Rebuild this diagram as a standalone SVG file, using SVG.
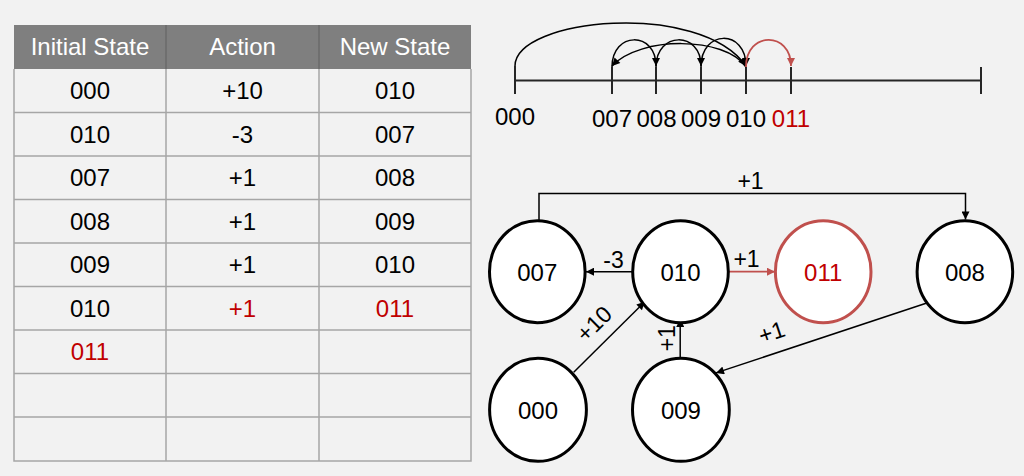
<svg xmlns="http://www.w3.org/2000/svg" width="1024" height="476" viewBox="0 0 1024 476">
<defs>
<style>
.t{font-family:"Liberation Sans",Arial,sans-serif;font-size:24px;text-anchor:middle;fill:#000}
.h{fill:#fff}
.r{fill:#c00000}
.l{font-family:"Liberation Sans",Arial,sans-serif;font-size:23px;text-anchor:middle;fill:#000}
.g{stroke:#a6a6a6;stroke-width:1.5;fill:none}
.n{fill:#fff;stroke:#000;stroke-width:3}
.nr{fill:#fff;stroke:#c0504d;stroke-width:3}
.c{fill:none;stroke:#000;stroke-width:1.5}
.cr{fill:none;stroke:#c0504d;stroke-width:1.8}
.ax{fill:none;stroke:#262626;stroke-width:2}
</style>
<marker id="ab" viewBox="0 0 10 10" refX="10" refY="5" markerWidth="10" markerHeight="8" markerUnits="userSpaceOnUse" orient="auto"><path d="M0,0 L10,5 L0,10 z" fill="#000"/></marker>
<marker id="ar" viewBox="0 0 10 10" refX="10" refY="5" markerWidth="10" markerHeight="8" markerUnits="userSpaceOnUse" orient="auto"><path d="M0,0 L10,5 L0,10 z" fill="#c0504d"/></marker>
</defs>
<rect width="1024" height="476" fill="#f2f2f2"/>

<g id="table">
<rect x="14" y="25" width="457" height="44" fill="#7f7f7f"/>
<line x1="166" y1="25" x2="166" y2="69" stroke="#6a6a6a" stroke-width="1.5"/>
<line x1="319" y1="25" x2="319" y2="69" stroke="#6a6a6a" stroke-width="1.5"/>
<path class="g" d="M14,69 V461 H471 V69 M166,69 V461 M319,69 V461 M14,112.5 H471 M14,156 H471 M14,199.5 H471 M14,243 H471 M14,286.5 H471 M14,330 H471 M14,373.5 H471 M14,417 H471"/>
<text class="t h" x="90" y="55">Initial State</text>
<text class="t h" x="242.5" y="55">Action</text>
<text class="t h" x="395" y="55">New State</text>
<text class="t" x="90" y="99">000</text><text class="t" x="242.5" y="99">+10</text><text class="t" x="395" y="99">010</text>
<text class="t" x="90" y="142.5">010</text><text class="t" x="242.5" y="142.5">-3</text><text class="t" x="395" y="142.5">007</text>
<text class="t" x="90" y="186">007</text><text class="t" x="242.5" y="186">+1</text><text class="t" x="395" y="186">008</text>
<text class="t" x="90" y="229.5">008</text><text class="t" x="242.5" y="229.5">+1</text><text class="t" x="395" y="229.5">009</text>
<text class="t" x="90" y="273">009</text><text class="t" x="242.5" y="273">+1</text><text class="t" x="395" y="273">010</text>
<text class="t" x="90" y="316.5">010</text><text class="t r" x="242.5" y="316.5">+1</text><text class="t r" x="395" y="316.5">011</text>
<text class="t r" x="90" y="360">011</text>
</g>

<g id="numberline">
<path class="ax" d="M515,80.5 H981 M515,66 V94 M612,67 V94 M656,67 V94 M701,67 V94 M746,67 V94 M791,67 V94 M981,67 V94"/>
<text class="t" x="515" y="125">000</text>
<text class="t" x="612" y="127">007</text>
<text class="t" x="656.5" y="127">008</text>
<text class="t" x="701" y="127">009</text>
<text class="t" x="746" y="127">010</text>
<text class="t r" x="791" y="127">011</text>
</g>

<g id="numberline-arcs">
<path class="c" d="M515,66 C515,18 700,0 746,66" marker-end="url(#ab)"/>
<path class="c" d="M746,67 C725,36 640,36 612,66" marker-end="url(#ab)"/>
<path class="c" d="M612,67 C612,31 656,31 656,66" marker-end="url(#ab)"/>
<path class="c" d="M656,67 C656,31 701,31 701,66" marker-end="url(#ab)"/>
<path class="c" d="M701,67 C701,29 746,29 746,66" marker-end="url(#ab)"/>
<path class="cr" d="M746,67 C746,31 791,31 791,66" marker-end="url(#ar)"/>
</g>

<g id="connectors">
<path class="c" d="M539,220 V193.5 H965.5 V219.5" marker-end="url(#ab)"/>
<text class="l" x="750.5" y="188.5">+1</text>
<path class="c" d="M632,271.7 H586" marker-end="url(#ab)"/>
<text class="l" x="613.5" y="267.5">-3</text>
<path class="cr" d="M729,271.7 H775" marker-end="url(#ar)"/>
<text class="l r" x="746.5" y="266.5">+1</text>
<path class="c" d="M573.7,372.2 L644.8,301.7" marker-end="url(#ab)"/>
<text class="l" transform="translate(599.7,329.5) rotate(-44.8)" x="0" y="0">+10</text>
<path class="c" d="M680.2,357.3 V319" marker-end="url(#ab)"/>
<text class="l" transform="translate(667.4,338.2) rotate(-90)" x="0" y="8">+1</text>
<path class="c" d="M927.6,302.8 L716,372.9" marker-end="url(#ab)"/>
<text class="l" transform="translate(774.2,339.9) rotate(-18.3)" x="0" y="0">+1</text>
</g>

<g id="n007"><ellipse class="n" cx="537.3" cy="271.7" rx="47.8" ry="51"/><text class="t" x="537.3" y="280.7">007</text></g>
<g id="n010"><ellipse class="n" cx="680.5" cy="271.7" rx="47.8" ry="51"/><text class="t" x="680.5" y="280.7">010</text></g>
<g id="n011"><ellipse class="nr" cx="823.2" cy="271.7" rx="47.8" ry="51"/><text class="t r" x="823.2" y="280.7">011</text></g>
<g id="n008"><ellipse class="n" cx="964.9" cy="271.7" rx="47.8" ry="51"/><text class="t" x="964.9" y="280.7">008</text></g>
<g id="n000"><ellipse class="n" cx="538" cy="409.8" rx="48.4" ry="51.5"/><text class="t" x="538" y="418.8">000</text></g>
<g id="n009"><ellipse class="n" cx="680.9" cy="409.8" rx="48.4" ry="51.5"/><text class="t" x="680.9" y="418.8">009</text></g>
</svg>
